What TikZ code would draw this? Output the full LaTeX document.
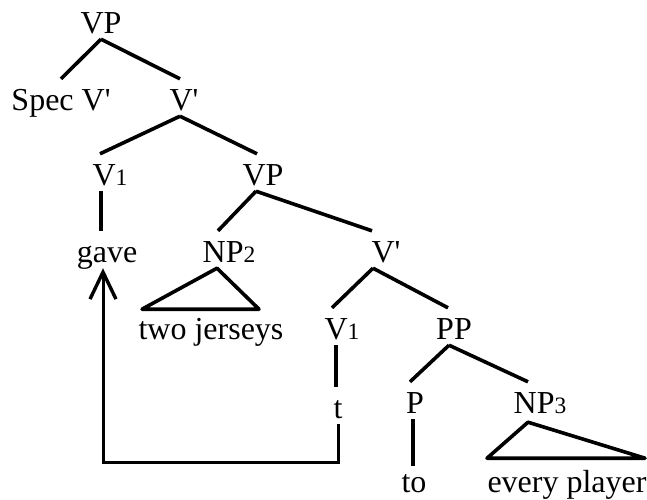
\documentclass[tikz,border=0pt]{standalone}
\usepackage{fontspec}
\setmainfont{Liberation Serif}
\usetikzlibrary{arrows.meta}
\newcommand{\sbs}[1]{{\fontsize{23.5}{23.5}\selectfont #1}}
\newcommand{\prm}{\textquotesingle}
\begin{document}
\begin{tikzpicture}[x=1pt,y=-1pt,
  lab/.style={anchor=base, inner sep=0pt, text height=31pt, text depth=6pt, font=\fontsize{32}{32}\selectfont},
  br/.style={line width=3.6pt, line join=round},
  mv/.style={line width=3pt, -{Straight Barb[length=27pt,width=26pt,line width=3.4pt]}}]
\useasboundingbox (0,0) rectangle (647,499);
\node[lab] (vpA) at (101,33) {VP};
\node[lab] (spec) at (61,110) {Spec V\prm};
\node[lab] (vbA) at (184,110) {V\prm};
\node[lab] (v1A) at (110,185) {V\sbs{1}};
\node[lab] (vpB) at (263,185) {VP};
\node[lab] (gave) at (107,262) {gave};
\node[lab] (np2) at (229,262) {NP\sbs{2}};
\node[lab] (vbB) at (386,262) {V\prm};
\node[lab] (jer) at (211,339) {two jerseys};
\node[lab] (v1B) at (342,339) {V\sbs{1}};
\node[lab] (pp) at (454,339) {PP};
\node[lab] (t) at (338,418) {t};
\node[lab] (p) at (415,413) {P};
\node[lab] (np3) at (540,413) {NP\sbs{3}};
\node[lab] (to) at (414,492) {to};
\node[lab] (every) at (567,492) {every player};
% branches
\draw[br] (vpA.south) -- (spec.north);
\draw[br] (vpA.south) -- ([xshift=-4pt]vbA.north);
\draw[br] ([xshift=-4pt]vbA.south) -- ([xshift=-10pt]v1A.north);
\draw[br] ([xshift=-4pt]vbA.south) -- ([xshift=-6pt]vpB.north);
\draw[br] ([xshift=-7pt]vpB.south) -- ([xshift=-11pt]np2.north);
\draw[br] ([xshift=-7pt]vpB.south) -- ([xshift=-14pt]vbB.north);
\draw[br] ([xshift=-13pt]vbB.south) -- ([xshift=-10pt]v1B.north);
\draw[br] ([xshift=-13pt]vbB.south) -- ([xshift=-6pt]pp.north);
\draw[br] ([xshift=-5pt]pp.south) -- ([xshift=-5pt]p.north);
\draw[br] ([xshift=-5pt]pp.south) -- ([xshift=-12pt]np3.north);
% vertical lines
\draw[br] ([xshift=-9pt]v1A.south) -- ([xshift=-9pt]v1A.south |- gave.north);
\draw[br] ([xshift=-6pt]v1B.south) -- ([xshift=-6pt]v1B.south |- t.north);
\draw[br] ([xshift=-2pt]p.south) -- ([xshift=-2pt,yshift=-5pt]p.south |- to.north);
% triangles
\draw[br] ([xshift=-12pt]np2.south) -- ++(-75,41) -- ++(117,0) -- cycle;
\draw[br] ([xshift=-12pt,yshift=-3pt]np3.south) -- ++(-41,36) -- ++(158,0) -- cycle;
% movement arrow
\draw[mv] (t.south) -- ++(0,38) -| ([xshift=-4pt]gave.south);
\end{tikzpicture}
\end{document}
